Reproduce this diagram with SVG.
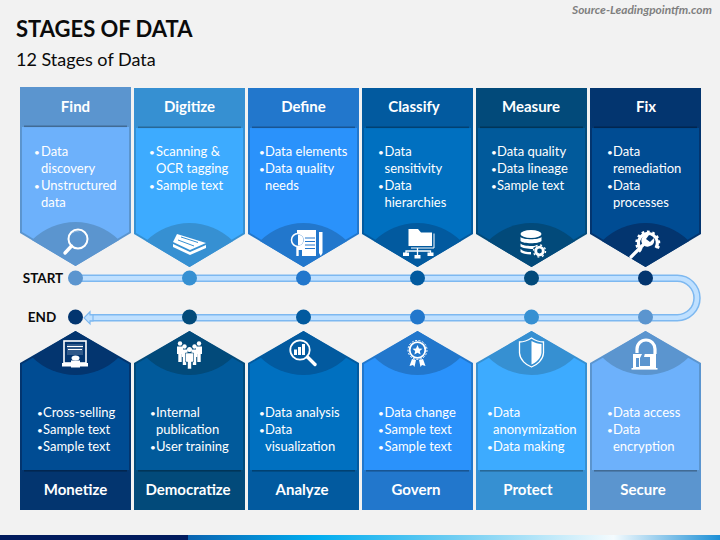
<svg xmlns="http://www.w3.org/2000/svg" width="720" height="540" viewBox="0 0 720 540">
<style>
text{font-family:Lato,"Open Sans","Liberation Sans",sans-serif;fill:#fff}
.b{font-size:13px}
.h{font-size:15px;font-weight:700;text-anchor:middle}
.lab{font-size:13.500px;font-weight:700;fill:#0b0b0b;text-anchor:middle}
.dot{font-size:10px}
.w{fill:#fff}
.c1{fill:#5B95CF}.b1{fill:#6DB1FB}
.c2{fill:#3690D2}.b2{fill:#3DABFF}
.c3{fill:#2277CC}.b3{fill:#2A92FB}
.c4{fill:#025A9F}.b4{fill:#0070C0}
.c5{fill:#024A7A}.b5{fill:#015A9B}
.c6{fill:#03356F}.b6{fill:#004C93}
.sep{fill:#000;opacity:.28}
</style>
<defs>
<linearGradient id="strip" x1="0" x2="1" y1="0" y2="0"><stop offset="0" stop-color="#0A63B0"/><stop offset=".24" stop-color="#00ADEF"/><stop offset=".5" stop-color="#6FCDF2"/><stop offset=".8" stop-color="#F4FBFE"/><stop offset="1" stop-color="#1C8FD6"/></linearGradient>
<path id="tO" d="M0 0H111V146L55.500 179L0 146Z"/>
<path id="tB" d="M2 40H109V145L55.500 176.800L2 145Z"/>
<path id="tD" d="M12 153A61.600 61.600 0 0 1 99 153L55.500 179Z"/>
<rect id="tS" x="4" y="38.500" width="103" height="1.600"/>
<path id="bO" d="M0 32L55.500 0L111 32V179H0Z"/>
<path id="bB" d="M2 33L55.500 2.200L109 33V139H2Z"/>
<path id="bD" d="M12 26L55.500 0L99 26A61.600 61.600 0 0 1 12 26Z"/>
<rect id="bS" x="4" y="139" width="103" height="1.600"/>
<g id="pers"><circle cx="0" cy="-5.500" r="2.200"/><path d="M-3 -2.600H3V5H1.700V13H-1.700V5H-3Z"/></g>
</defs>
<rect width="720" height="540" fill="#F2F2F2"/>
<rect x="0" y="535" width="188" height="5" fill="#021C5E"/>
<rect x="188" y="535" width="532" height="5" fill="url(#strip)"/>
<text x="16" y="37" style="font-size:22px;font-weight:700;fill:#0b0b0b">STAGES OF DATA</text>
<text x="16" y="66" style="font-size:18px;fill:#0b0b0b">12 Stages of Data</text>
<text x="712" y="14" style="font-size:11.900px;font-weight:700;font-style:italic;fill:#7f7f7f;text-anchor:end">Source-Leadingpointfm.com</text>

<g id="connectors">
<path d="M76 278.300H677.300A19.700 19.700 0 0 1 677.300 317.700H90" fill="none" stroke="#7DB8F0" stroke-width="7.500"/>
<path d="M76 278.300H677.300A19.700 19.700 0 0 1 677.300 317.700H90" fill="none" stroke="#BFE0FF" stroke-width="4.500"/>
<path d="M84 317.800L90 311.800V314.800H93V320.800H90V323.800Z" fill="#BFE0FF" stroke="#7DB8F0" stroke-width="1.200"/>
<circle cx="75.500" cy="278" r="7.500" class="c1"/><circle cx="189.500" cy="278" r="7.500" class="c2"/><circle cx="303.500" cy="278" r="7.500" class="c3"/><circle cx="417.500" cy="278" r="7.500" class="c4"/><circle cx="531.500" cy="278" r="7.500" class="c5"/><circle cx="645.500" cy="278" r="7.500" class="c6"/>
<circle cx="75.500" cy="317" r="7.500" class="c6"/><circle cx="189.500" cy="317" r="7.500" class="c5"/><circle cx="303.500" cy="317" r="7.500" class="c4"/><circle cx="417.500" cy="317" r="7.500" class="c3"/><circle cx="531.500" cy="317" r="7.500" class="c2"/><circle cx="645.500" cy="317" r="7.500" class="c1"/>
</g>
<text x="43" y="283" class="lab">START</text>
<text x="42" y="322" class="lab">END</text>

<g id="find" transform="translate(20 87)">
<use href="#tO" class="c1"/><use href="#tB" class="b1"/><use href="#tD" class="c1"/><use href="#tS" class="sep"/>
<text x="55.500" y="25" class="h">Find</text>
<text x="14" y="69" class="dot">•</text><text x="21" y="69" class="b">Data</text><text x="21" y="86" class="b">discovery</text>
<text x="14" y="103" class="dot">•</text><text x="21" y="103" class="b">Unstructured</text><text x="21" y="120" class="b">data</text>
<circle cx="58" cy="152" r="9.500" fill="none" stroke="#fff" stroke-width="2"/><path d="M51 147A9 9 0 0 1 60 145.500A8 8 0 0 0 51 147Z" class="w"/>
<path d="M51.500 159L45 166" stroke="#fff" stroke-width="3.400" stroke-linecap="round"/>
</g>
<g id="digitize" transform="translate(134 88)">
<use href="#tO" class="c2"/><use href="#tB" class="b2"/><use href="#tD" class="c2"/><use href="#tS" class="sep"/>
<text x="55.500" y="24" class="h">Digitize</text>
<text x="15" y="68" class="dot">•</text><text x="22" y="68" class="b">Scanning &amp;</text><text x="22" y="85" class="b">OCR tagging</text>
<text x="15" y="102" class="dot">•</text><text x="22" y="102" class="b">Sample text</text>
<path d="M43 146L72 155L56 162L39 154Z" class="w"/><path d="M47 149L64 154.500" stroke="#3690D2"/><path d="M44 152L60 158" stroke="#3690D2"/><path d="M39 156L56 164L72 157V160L56 167L39 159Z" class="w"/>
</g>
<g id="define" transform="translate(248 88)">
<use href="#tO" class="c3"/><use href="#tB" class="b3"/><use href="#tD" class="c3"/><use href="#tS" class="sep"/>
<text x="55.500" y="24" class="h">Define</text>
<text x="11" y="68" class="dot">•</text><text x="17" y="68" class="b">Data elements</text>
<text x="11" y="85" class="dot">•</text><text x="17" y="85" class="b">Data quality</text><text x="17" y="102" class="b">needs</text>
<path d="M49 142H68V168H54V162H49Z" class="w"/>
<path d="M71 144H74.500V165L72.800 168L71 165Z" class="w"/>
<path d="M57 150H67M57 153.500H67M57 157H67M57 160.500H67" stroke="#2277CC" stroke-width="1"/>
<circle cx="50" cy="152" r="6.500" fill="#2277CC" stroke="#fff" stroke-width="1.500"/><path d="M50 146.500A5.500 5.500 0 0 1 50 157.500Z" class="w"/>
<path d="M49.500 159V168" stroke="#fff" stroke-width="2.400"/>
</g>
<g id="classify" transform="translate(362 88)">
<use href="#tO" class="c4"/><use href="#tB" class="b4"/><use href="#tD" class="c4"/><use href="#tS" class="sep"/>
<text x="52" y="24" class="h">Classify</text>
<text x="16" y="68" class="dot">•</text><text x="22.500" y="68" class="b">Data</text><text x="22.500" y="85" class="b">sensitivity</text>
<text x="16" y="102" class="dot">•</text><text x="22.500" y="102" class="b">Data</text><text x="22.500" y="119" class="b">hierarchies</text>
<path d="M46.500 141H56L59 144.500H70V158H46.500Z" class="w"/><path d="M72 145.500V160H49" fill="none" stroke="#fff"/>
<path d="M55.500 160V168M44 165V163H68.500V165" fill="none" stroke="#fff" stroke-width="1.300"/>
<rect x="41" y="164.500" width="6" height="3.500" class="w"/><rect x="52.500" y="167" width="6" height="3.500" class="w"/><rect x="65.500" y="164.500" width="6" height="3.500" class="w"/>
</g>
<g id="measure" transform="translate(476 88)">
<use href="#tO" class="c5"/><use href="#tB" class="b5"/><use href="#tD" class="c5"/><use href="#tS" class="sep"/>
<text x="55" y="24" class="h">Measure</text>
<text x="15" y="68" class="dot">•</text><text x="21" y="68" class="b">Data quality</text>
<text x="15" y="85" class="dot">•</text><text x="21" y="85" class="b">Data lineage</text>
<text x="15" y="102" class="dot">•</text><text x="21" y="102" class="b">Sample text</text>
<ellipse cx="55" cy="146" rx="10.500" ry="4" class="w"/>
<path d="M44.500 149C47 152 63 152 65.500 149V153C63 156 47 156 44.500 153ZM44.500 155.500C47 158.500 60 158.500 62 157L57 160V161C52 161 46 160 44.500 158.500ZM44.500 161C47 163.500 51 164 55 164V166.500C50 166.500 46 165.500 44.500 164Z" class="w"/>
<circle cx="63.500" cy="163" r="3.800" fill="none" stroke="#fff" stroke-width="2.800"/>
<circle cx="63.500" cy="163" r="6" fill="none" stroke="#fff" stroke-width="1.400" stroke-dasharray="2 2.700"/>
</g>
<g id="fix" transform="translate(590 88)">
<use href="#tO" class="c6"/><use href="#tB" class="b6"/><use href="#tD" class="c6"/><use href="#tS" class="sep"/>
<text x="56" y="24" class="h">Fix</text>
<text x="17" y="68" class="dot">•</text><text x="23" y="68" class="b">Data</text><text x="23" y="85" class="b">remediation</text>
<text x="17" y="102" class="dot">•</text><text x="23" y="102" class="b">Data</text><text x="23" y="119" class="b">processes</text>
<path d="M51.500 162A9.500 9.500 0 1 1 66 160" fill="none" stroke="#fff" stroke-width="3.200"/>
<path d="M50.800 163.500A11 11 0 1 1 67 161" fill="none" stroke="#fff" stroke-width="3" stroke-dasharray="2.600 2.600"/>
<path d="M41 169L54 156" stroke="#fff" stroke-width="3.200" stroke-linecap="round"/>
<path d="M52 150A6 6 0 0 0 60 158A6 6 0 0 0 64 150L60 154L56 151L59 147A6 6 0 0 0 52 150Z" class="w"/>
</g>

<g id="monetize" transform="translate(20 331)">
<use href="#bO" class="c6"/><use href="#bB" class="b6"/><use href="#bD" class="c6"/><use href="#bS" class="sep"/>
<text x="55.500" y="164" class="h">Monetize</text>
<text x="17" y="86" class="dot">•</text><text x="23" y="86" class="b">Cross-selling</text>
<text x="17" y="103" class="dot">•</text><text x="23" y="103" class="b">Sample text</text>
<text x="17" y="120" class="dot">•</text><text x="23" y="120" class="b">Sample text</text>
<rect x="44" y="10" width="22" height="22" fill="none" stroke="#fff" stroke-width="1.600"/>
<rect x="47" y="13" width="16" height="11" class="w" opacity=".18"/>
<path d="M47 15.500H63M48 18.500H62" stroke="#fff" stroke-width="1.200"/>
<path d="M42 32H68V35.500H42Z" class="w"/>
<ellipse cx="55.500" cy="27" rx="4" ry="2.500" class="w"/><path d="M51 29.500H60V32H51ZM51 33H60V36.500H51Z" class="w"/>
</g>
<g id="democratize" transform="translate(134 331)">
<use href="#bO" class="c5"/><use href="#bB" class="b5"/><use href="#bD" class="c5"/><use href="#bS" class="sep"/>
<text x="54" y="164" class="h">Democratize</text>
<text x="16" y="86" class="dot">•</text><text x="22" y="86" class="b">Internal</text><text x="22" y="103" class="b">publication</text>
<text x="16" y="120" class="dot">•</text><text x="22" y="120" class="b">User training</text>
<g class="w"><use href="#pers" x="46" y="18"/><use href="#pers" x="65" y="18"/><use href="#pers" x="50.500" y="21"/><use href="#pers" x="60.500" y="21"/></g>
<circle cx="55.500" cy="18.500" r="2.500" class="w"/><path d="M51.500 22H59.500V31H57.500V38H53.500V31H51.500Z" class="w" stroke="#024A7A" stroke-width=".6"/>
</g>
<g id="analyze" transform="translate(248 331)">
<use href="#bO" class="c4"/><use href="#bB" class="b4"/><use href="#bD" class="c4"/><use href="#bS" class="sep"/>
<text x="54" y="164" class="h">Analyze</text>
<text x="11" y="86" class="dot">•</text><text x="17" y="86" class="b">Data analysis</text>
<text x="11" y="103" class="dot">•</text><text x="17" y="103" class="b">Data</text><text x="17" y="120" class="b">visualization</text>
<circle cx="52" cy="19" r="9.700" fill="none" stroke="#fff" stroke-width="1.800"/>
<path d="M46 18.500H49V24H46ZM50 16H53V24H50ZM54 13H57V24H54Z" class="w"/>
<path d="M59.500 26L67 33.500" stroke="#fff" stroke-width="3.400" stroke-linecap="round"/>
</g>
<g id="govern" transform="translate(362 331)">
<use href="#bO" class="c3"/><use href="#bB" class="b3"/><use href="#bD" class="c3"/><use href="#bS" class="sep"/>
<text x="54" y="164" class="h">Govern</text>
<text x="16" y="86" class="dot">•</text><text x="22.500" y="86" class="b">Data change</text>
<text x="16" y="103" class="dot">•</text><text x="22.500" y="103" class="b">Sample text</text>
<text x="16" y="120" class="dot">•</text><text x="22.500" y="120" class="b">Sample text</text>
<circle cx="55.500" cy="19" r="7.800" fill="none" stroke="#fff" stroke-width="1.800"/>
<circle cx="55.500" cy="19" r="9.500" fill="none" stroke="#fff" stroke-width="1" stroke-dasharray="2 1.500"/>
<path d="M55.500 14L57 17.500L60.500 17.800L57.800 20L58.600 23.500L55.500 21.700L52.400 23.500L53.200 20L50.500 17.800L54 17.500Z" class="w"/>
<path d="M50 28L47.500 35L51 34L52.500 36L54 29ZM61 28L63.500 35L60 34L58.500 36L57 29Z" class="w"/>
</g>
<g id="protect" transform="translate(476 331)">
<use href="#bO" class="c2"/><use href="#bB" class="b2"/><use href="#bD" class="c2"/><use href="#bS" class="sep"/>
<text x="52" y="164" class="h">Protect</text>
<text x="11" y="86" class="dot">•</text><text x="17" y="86" class="b">Data</text><text x="17" y="103" class="b">anonymization</text>
<text x="11" y="120" class="dot">•</text><text x="17" y="120" class="b">Data making</text>
<path d="M55.500 7C60 10 64 11 67.500 11V22C67 29 61 34 55.500 36C50 34 44 29 43.500 22V11C47 11 51 10 55.500 7Z" fill="none" stroke="#fff" stroke-width="1.300"/>
<path d="M55.500 10C59 12 62.500 13 65.500 13V22C65 27 60 32 55.500 33.500Z" class="w"/>
</g>
<g id="secure" transform="translate(590 331)">
<use href="#bO" class="c1"/><use href="#bB" class="b1"/><use href="#bD" class="c1"/><use href="#bS" class="sep"/>
<text x="53" y="164" class="h">Secure</text>
<text x="17" y="86" class="dot">•</text><text x="23" y="86" class="b">Data access</text>
<text x="17" y="103" class="dot">•</text><text x="23" y="103" class="b">Data</text><text x="23" y="120" class="b">encryption</text>
<path d="M47 22V18A9 9 0 0 1 65 18V23" fill="none" stroke="#fff" stroke-width="3.200"/>
<path d="M43 23H66V38H43Z" class="w"/>
<path d="M46 27H49V36H46ZM50 27L53 21L55 22L54 26H60V35H50Z" class="c1"/>
<rect x="41.500" y="37" width="26" height="1.600" class="w"/>
</g>
</svg>
